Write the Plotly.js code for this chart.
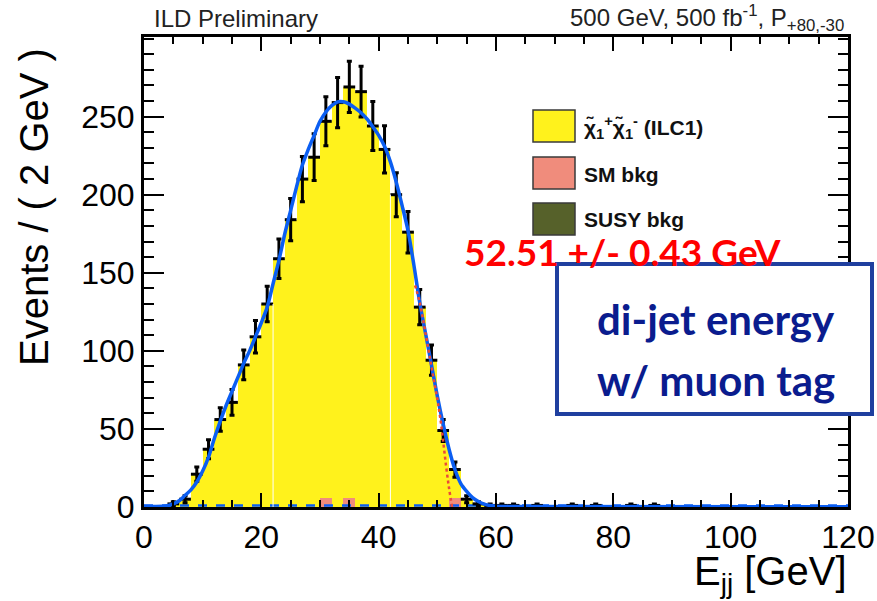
<!DOCTYPE html>
<html><head><meta charset="utf-8">
<script src="https://cdn.plot.ly/plotly-3.0.1.min.js"></script>
<style>html,body{margin:0;padding:0;background:#fff;} #chart{width:877px;height:601px;}</style>
</head><body><div id="chart"></div>
<script>
// ---- data (bin width 2 GeV, 0..120 GeV) ----
const binCenters = [1,3,5,7,9,11,13,15,17,19,21,23,25,27,29,31,33,35,37,39,
  41,43,45,47,49,51,53,55,57,59,61,63,65,67,69,71,73,75,77,79,
  81,83,85,87,89,91,93,95,97,99,101,103,105,107,109,111,113,115,117,119];
const dataCounts = [0,0,2,5,21,37,56,67,91,109,130,159,184,210,224,247,259,269,266,244,
  229,200,176,128,94,49,24,5,2,1,1,1,0,1,0,0,1,0,1,0,
  0,1,0,1,0,0,0,0,0,0,0,0,0,0,0,0,0,0,0,0];
const signalCounts = [0,0,2,5,21,37,56,67,91,109,130,159,184,210,224,241,259,263,266,244,
  229,200,176,128,94,49,18,5,2,1,0,0,0,0,0,0,0,0,0,0,
  0,0,0,0,0,0,0,0,0,0,0,0,0,0,0,0,0,0,0,0];
const smBkgCounts = [0,0,0,0,0,0,0,0,0,0,0,0,0,0,0,6,0,6,0,0,
  0,0,0,0,0,0,6,0,0,0,0,0,0,0,0,0,0,0,0,0,
  0,0,0,0,0,0,0,0,0,0,0,0,0,0,0,0,0,0,0,0];
const susyBkgCounts = [0,0,0,0,0,0,0,0,0,0,0,0,0,0,0,0,0,0,0,0,
  0,0,0,0,0,0,0,0,0,0,0,0,0,0,0,0,0,0,0,0,
  0,0,0,0,0,0,0,0,0,0,0,0,0,0,0,0,0,0,0,0];

// total fit curve
const fitX = [0,2,4,5,6,7,8,9,10,11,12,13,14,15,16,17,18,19,20,21,22,23,24,25,26,27,28,29,30,31,32,33,34,35,36,37,38,39,40,41,42,43,44,45,46,47,48,49,50,51,52,53,54,55,56,57,58,59,60,62,120];
const fitY = [0.3,0.3,0.8,2,4,7.5,11,16,23,32,44,55,65,74,83,92,100,109,118,128,143,158,175,190,205,219,229,238,247,253,257,259.5,259.5,258,255.5,252.5,248.5,243.5,238,231,221,208,193,177,155,131,111,91,71,53,37,24,15,10,6,3.5,1.8,0.9,0.5,0.3,0.2];
// signal (edge) component
const sigFitX = [46.2,47,48,49,50,50.5,51,51.5,52,52.51];
const sigFitY = [142,131,111,90,69,57,42,26,12,0];
// background component
const bkgFitX = [0,120];
const bkgFitY = [1,1];

const xTickVals = [0,20,40,60,80,100,120];
const yTickVals = [0,50,100,150,200,250];
const artifactEdges = [22,42];

// ---- geometry helpers (pixels -> paper) ----
const W=877,H=601,ML=144,MR=29,MT=37,MB=94;
const PW=W-ML-MR, PH=H-MT-MB;
const px = X => (X-ML)/PW;
const py = Y => (H-MB-Y)/PH;

const FONT = 'Liberation Sans, Arial, Helvetica, sans-serif';
const BOXFONT = 'Lato, Open Sans, sans-serif';

const pts = binCenters.map((c,i)=>({c,n:dataCounts[i]})).filter(p=>p.n>0);

const traces = [
  {type:'bar', x:binCenters, y:susyBkgCounts, width:2, marker:{color:'#56612a',line:{width:0}}, hoverinfo:'skip', showlegend:false},
  {type:'bar', x:binCenters, y:smBkgCounts, width:2, marker:{color:'#f08c7c',line:{width:0}}, hoverinfo:'skip', showlegend:false},
  {type:'bar', x:binCenters, y:signalCounts, width:2, marker:{color:'#fff21c',line:{width:0}}, hoverinfo:'skip', showlegend:false},
  {type:'scatter', mode:'lines', x:bkgFitX, y:bkgFitY, line:{color:'#0b5ef2',width:2.5,dash:'dash'}, hoverinfo:'skip', showlegend:false},
  {type:'scatter', mode:'markers', x:pts.map(p=>p.c), y:pts.map(p=>p.n),
    marker:{size:1,color:'#000'},
    error_x:{type:'constant', value:1, width:0, thickness:3, color:'#000'},
    error_y:{type:'data', array:pts.map(p=>Math.sqrt(p.n)), width:2.5, thickness:3, color:'#000'},
    hoverinfo:'skip', showlegend:false},
  {type:'scatter', mode:'lines', x:fitX, y:fitY, line:{color:'#0b5ef2',width:3.5,shape:'spline',smoothing:0.8}, hoverinfo:'skip', showlegend:false},
  {type:'scatter', mode:'lines', x:sigFitX, y:sigFitY, line:{color:'#ea4a3a',width:2.5,dash:'dot',shape:'spline'}, hoverinfo:'skip', showlegend:false}
];

const shapes = [];
artifactEdges.forEach(e=>{
  const iL = binCenters.indexOf(e-1), iR = binCenters.indexOf(e+1);
  const h = Math.min(signalCounts[iL], signalCounts[iR]);
  shapes.push({type:'line', xref:'x', yref:'y', x0:e, x1:e, y0:0, y1:h, line:{color:'#ffffff',width:1}, layer:'above'});
});
// legend boxes
const legendRows = [
  {y0:110,y1:142,color:'#fff21c',text:'χ̃<sub>1</sub><sup>+</sup>χ̃<sub>1</sub><sup>-</sup> (ILC1)'},
  {y0:157,y1:189,color:'#f08c7c',text:'SM bkg'},
  {y0:203,y1:235,color:'#56612a',text:'SUSY bkg'}
];
const annotations = [];
legendRows.forEach(r=>{
  shapes.push({type:'rect', xref:'paper', yref:'paper', x0:px(533), x1:px(575), y0:py(r.y1), y1:py(r.y0), fillcolor:r.color, line:{color:'#3a3a3a',width:1.5}, layer:'above'});
  annotations.push({xref:'paper', yref:'paper', x:px(582), y:py((r.y0+r.y1)/2+1), xanchor:'left', yanchor:'middle', showarrow:false, text:'<b>'+r.text+'</b>', font:{family:FONT,size:21,color:'#111'}});
});
// blue box
shapes.push({type:'rect', xref:'paper', yref:'paper', x0:px(557), x1:px(872), y0:py(414), y1:py(264), fillcolor:'#ffffff', line:{color:'#1f3f9f',width:4}, layer:'above'});

annotations.push(
  {xref:'paper', yref:'paper', x:px(152), y:py(18), xanchor:'left', yanchor:'middle', showarrow:false, text:'ILD Preliminary', font:{family:FONT,size:24,color:'#222'}},
  {xref:'paper', yref:'paper', x:px(846), y:py(18), xanchor:'right', yanchor:'middle', showarrow:false, text:'500 GeV, 500 fb<sup>-1</sup>, P<sub>+80,-30</sub>', font:{family:FONT,size:24,color:'#222'}},
  {xref:'paper', yref:'paper', x:px(622), y:py(251), xanchor:'center', yanchor:'middle', showarrow:false, text:'<b>52.51 +/- 0.43 GeV</b>', font:{family:BOXFONT,size:37,color:'#ff0000'}},
  {xref:'paper', yref:'paper', x:px(716), y:py(319), xanchor:'center', yanchor:'middle', showarrow:false, text:'<b>di-jet energy</b>', font:{family:BOXFONT,size:42,color:'#0a1c8e'}},
  {xref:'paper', yref:'paper', x:px(716), y:py(380), xanchor:'center', yanchor:'middle', showarrow:false, text:'<b>w/ muon tag</b>', font:{family:BOXFONT,size:42,color:'#0a1c8e'}},
  {xref:'paper', yref:'paper', x:px(849), y:py(601), xanchor:'right', yanchor:'bottom', showarrow:false, text:'E<sub>jj</sub> [GeV]', font:{family:FONT,size:40,color:'#000'}},
  {xref:'paper', yref:'paper', x:px(10), y:py(46), xanchor:'left', yanchor:'top', textangle:-90, showarrow:false, text:'Events / ( 2 GeV )', font:{family:FONT,size:40,color:'#000'}}
);

const layout = {
  width:W, height:H, margin:{l:ML,r:MR,t:MT,b:MB,pad:0},
  paper_bgcolor:'#fff', plot_bgcolor:'#fff',
  barmode:'stack', bargap:0, showlegend:false,
  font:{family:FONT,color:'#000'},
  xaxis:{range:[0,120], tickmode:'array', tickvals:xTickVals, ticks:'inside', ticklen:14, tickwidth:2, tickcolor:'#000',
    minor:{tickmode:'linear', tick0:0, dtick:5, ticklen:7, tickwidth:2, tickcolor:'#000', ticks:'inside'},
    showline:true, linewidth:3, linecolor:'#000', mirror:'ticks', showgrid:false, zeroline:false,
    tickfont:{family:FONT,size:32,color:'#000'}},
  yaxis:{range:[0,301], tickmode:'array', tickvals:yTickVals, ticks:'inside', ticklen:20, tickwidth:2, tickcolor:'#000',
    minor:{tickmode:'linear', tick0:0, dtick:10, ticklen:10, tickwidth:2, tickcolor:'#000', ticks:'inside'},
    showline:true, linewidth:3, linecolor:'#000', mirror:'ticks', showgrid:false, zeroline:false,
    tickfont:{family:FONT,size:32,color:'#000'}},
  shapes, annotations
};
Plotly.newPlot('chart', traces, layout, {staticPlot:true, displayModeBar:false});
</script></body></html>
